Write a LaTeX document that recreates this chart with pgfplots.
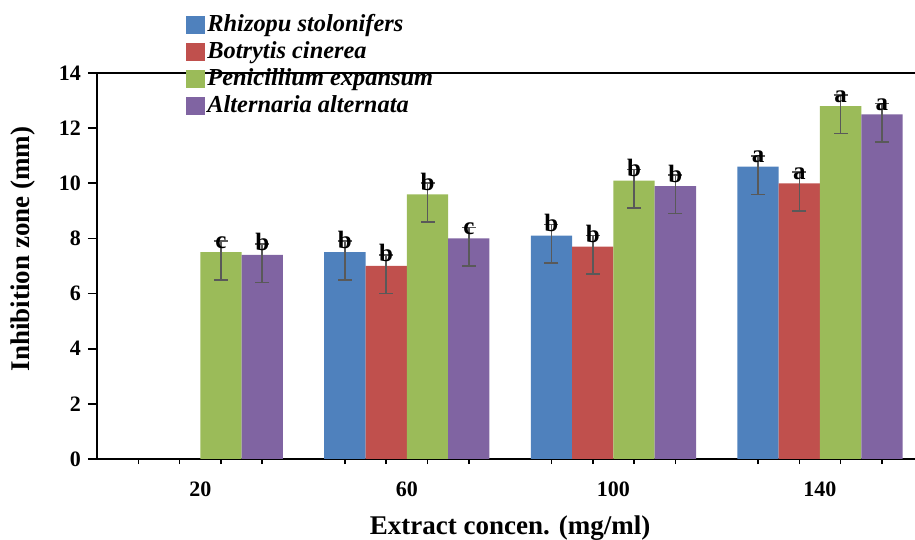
\documentclass[border=0pt]{standalone}
\usepackage{pgfplots}
\pgfplotsset{compat=1.18}
\usepackage{pgfplotstable}
\usepackage{fontspec}
\setmainfont{Liberation Serif}
\definecolor{cblue}{HTML}{4F81BD}
\definecolor{cred}{HTML}{C0504D}
\definecolor{cgreen}{HTML}{9BBB59}
\definecolor{cpurple}{HTML}{8064A2}
\definecolor{errc}{HTML}{595959}

\pgfplotstableread{
x y ep em l
1 7.5 0.4 1 b
2 8.1 0.4 1 b
3 10.6 0.4 1 a
}\tblue
\pgfplotstableread{
x y ep em l
1 7.0 0.4 1 b
2 7.7 0.4 1 b
3 10.0 0.4 1 a
}\tred
\pgfplotstableread{
x y ep em l
0 7.5 0.4 1 c
1 9.6 0.4 1 b
2 10.1 0.4 1 b
3 12.8 0.4 1 a
}\tgreen
\pgfplotstableread{
x y ep em l
0 7.4 0.4 1 b
1 8.0 0.4 1 c
2 9.9 0.4 1 b
3 12.5 0.4 1 a
}\tpurple

\pgfplotsset{
  myerr/.style={error bars/.cd, y dir=both, y explicit,
    error bar style={line width=0.8pt, color=errc},
    error mark options={rotate=90, mark size=3.5pt, line width=0.8pt, color=errc}},
}

\begin{document}
\begin{tikzpicture}
\useasboundingbox (-48.5pt,-40.5pt) rectangle (409pt,229.5pt);
\begin{axis}[
  scale only axis, width=409pt, height=193pt,
  at={(0,0)}, anchor=south west,
  xmin=-0.5, xmax=3.46, ymin=0, ymax=14,
  axis x line*=bottom, axis y line*=left,
  axis line style={line width=0.9pt, black},
  ybar, bar width=0.2,
  xtick={0,1,2,3}, xticklabels={20,60,100,140},
  major x tick style={draw=none},
  minor xtick={-0.3,-0.1,0.1,0.3,0.7,0.9,1.1,1.3,1.7,1.9,2.1,2.3,2.7,2.9,3.1,3.3},
  ytick={0,2,...,14},
  tick style={line width=0.8pt, black},
  xtick align=outside, ytick align=outside,
  major tick length=4.5pt, minor tick length=2.5pt,
  ticklabel style={font=\fontsize{11}{12}\selectfont\bfseries},
  xticklabel style={yshift=-3.5pt},
  /pgf/number format/assume math mode=true,
  xlabel={Extract concen. (mg/ml)},
  ylabel={Inhibition zone (mm)},
  every axis x label/.style={at={(axis description cs:0.505,-0.18)}, anchor=center, font=\fontsize{13.5}{15}\selectfont\bfseries},
  every axis y label/.style={at={(axis description cs:-0.0905,0.544)}, anchor=center, rotate=90, font=\fontsize{13.5}{15}\selectfont\bfseries},
  nodes near coords, point meta=explicit symbolic,
  every node near coord/.append style={anchor=base, yshift=2pt, text=black, font=\fontsize{12.5}{13}\selectfont\bfseries, inner sep=0pt},
  legend style={at={(axis description cs:0.1088,1.158)}, anchor=north west, draw=none, fill=none, inner sep=0pt,
    row sep=0.5pt,
    nodes={inner sep=1pt, text height=8.5pt, text depth=2.5pt, font=\fontsize{12.2}{13}\selectfont\bfseries\itshape}},
  legend cell align=left,
  legend image code/.code={\fill[#1] (0pt,-4.5pt) rectangle (9.5pt,4.5pt);},
]
\addplot[fill=cblue, draw=none, bar shift=-0.3, myerr] table[x=x,y=y,y error plus=ep,y error minus=em,meta=l]{\tblue};
\addlegendentry{Rhizopu stolonifers}
\addplot[fill=cred, draw=none, bar shift=-0.1, myerr] table[x=x,y=y,y error plus=ep,y error minus=em,meta=l]{\tred};
\addlegendentry{Botrytis cinerea}
\addplot[fill=cgreen, draw=none, bar shift=0.1, myerr] table[x=x,y=y,y error plus=ep,y error minus=em,meta=l]{\tgreen};
\addlegendentry{Penicillium expansum}
\addplot[fill=cpurple, draw=none, bar shift=0.3, myerr] table[x=x,y=y,y error plus=ep,y error minus=em,meta=l]{\tpurple};
\addlegendentry{Alternaria alternata}
\draw[line width=0.9pt] (rel axis cs:0,1) -- (rel axis cs:1,1);
\end{axis}
\end{tikzpicture}
\end{document}
